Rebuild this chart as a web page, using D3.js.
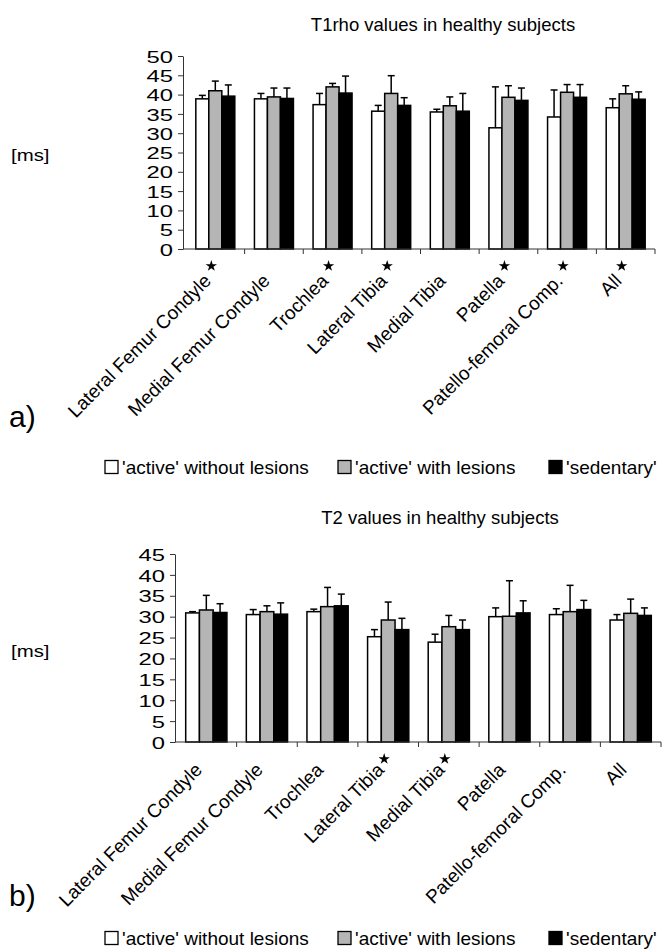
<!DOCTYPE html>
<html>
<head>
<meta charset="utf-8">
<script src="https://cdn.jsdelivr.net/npm/d3@7"></script>
<style>
  body { margin: 0; background: #fff; }
  text { font-family: "Liberation Sans", Arial, sans-serif; fill: #000; }
</style>
</head>
<body>
<svg width="662" height="950"></svg>
<script>
let categories = ['Lateral Femur Condyle', 'Medial Femur Condyle', 'Trochlea', 'Lateral Tibia',
                  'Medial Tibia', 'Patella', 'Patello-femoral Comp.', 'All'];
let groups = ["'active' without lesions", "'active' with lesions", "'sedentary'"];
let fills = ['#ffffff', '#b5b5b5', '#000000'];

// T1rho (ms): mean and upper SD per group
let t1rhoNoLesion = [38.9, 38.9, 37.4, 35.7, 35.5, 31.4, 34.2, 36.6];
let t1rhoNoLesionSD = [0.9, 1.4, 2.9, 1.5, 0.7, 10.6, 7.0, 2.3];
let t1rhoLesion = [41.0, 39.4, 42.0, 40.3, 37.1, 39.3, 40.6, 40.2];
let t1rhoLesionSD = [2.5, 2.3, 0.9, 4.6, 2.3, 3.0, 2.0, 2.1];
let t1rhoSedentary = [39.6, 39.0, 40.4, 37.2, 35.7, 38.5, 39.3, 38.8];
let t1rhoSedentarySD = [2.9, 2.7, 4.4, 2.0, 4.6, 3.2, 3.3, 1.9];
let t1rhoStars = [1, 0, 1, 1, 0, 1, 1, 1];
let t1rhoTicks = [0, 5, 10, 15, 20, 25, 30, 35, 40, 45, 50];

// T2 (ms)
let t2NoLesion = [30.9, 30.5, 31.2, 25.2, 23.9, 30.0, 30.5, 29.2];
let t2NoLesionSD = [0.3, 1.2, 0.6, 1.7, 1.9, 2.1, 1.4, 1.3];
let t2Lesion = [31.6, 31.2, 32.4, 29.2, 27.6, 30.1, 31.2, 30.8];
let t2LesionSD = [3.5, 1.4, 4.6, 4.3, 2.7, 8.5, 6.3, 3.4];
let t2Sedentary = [31.0, 30.6, 32.6, 26.9, 26.9, 30.9, 31.7, 30.3];
let t2SedentarySD = [2.1, 2.7, 2.8, 2.7, 2.3, 2.9, 2.2, 1.8];
let t2Stars = [0, 0, 0, 1, 1, 0, 0, 0];
let t2Ticks = [0, 5, 10, 15, 20, 25, 30, 35, 40, 45];

let svg = d3.select('svg');

function panel(p) {
    let g = svg.append('g');

    let x = d3.scaleBand().domain(categories).range([p.x0, p.x1])
              .paddingInner(p.pad).paddingOuter(p.pad / 2);
    let xs = d3.scaleBand().domain(groups).range([0, x.bandwidth()]);
    let y = d3.scaleLinear().domain([0, d3.max(p.ticks)]).range([p.y0, p.y1]);

    let rows = [];
    categories.forEach((c, i) => {
        groups.forEach((s, j) => {
            rows.push({cat: c, grp: s, v: p.means[j][i], sd: p.sds[j][i], fill: fills[j]});
        });
    });
    let cx = d => x(d.cat) + xs(d.grp) + xs.bandwidth() / 2;

    // bars
    g.selectAll('rect.bar').data(rows).enter().append('rect')
        .attr('class', 'bar')
        .attr('x', d => x(d.cat) + xs(d.grp))
        .attr('y', d => y(d.v))
        .attr('width', xs.bandwidth())
        .attr('height', d => y(0) - y(d.v))
        .attr('fill', d => d.fill)
        .attr('stroke', '#000')
        .attr('stroke-width', 1.5);

    // error bars (upper only)
    let eb = g.selectAll('g.err').data(rows).enter().append('g').attr('class', 'err')
        .attr('stroke', '#000').attr('stroke-width', 1.5);
    eb.append('line')
        .attr('x1', cx).attr('x2', cx)
        .attr('y1', d => y(d.v))
        .attr('y2', d => y(d.v + d.sd));
    eb.append('line')
        .attr('x1', d => cx(d) - 3.5)
        .attr('x2', d => cx(d) + 3.5)
        .attr('y1', d => y(d.v + d.sd))
        .attr('y2', d => y(d.v + d.sd));

    // y axis
    let ya = g.append('g')
        .attr('transform', 'translate(' + p.ax + ',0)')
        .call(d3.axisLeft(y).tickValues(p.ticks).tickSize(5).tickSizeOuter(0));
    ya.select('.domain').attr('stroke', '#333');
    ya.selectAll('.tick line').attr('stroke', '#333');
    ya.selectAll('.tick text')
        .attr('font-size', 17)
        .attr('fill', '#000')
        .attr('transform', 'scale(1.4,1)')
        .attr('x', -10 / 1.4)
        .attr('dy', '0.36em');

    // x axis line and category ticks
    g.append('line')
        .attr('x1', p.ax).attr('x2', p.x1)
        .attr('y1', p.y0).attr('y2', p.y0)
        .attr('stroke', '#333');
    g.selectAll('line.xt').data(categories).enter().append('line')
        .attr('class', 'xt')
        .attr('x1', d => x(d) - x.step() * x.paddingInner() / 2 + x.step())
        .attr('x2', d => x(d) - x.step() * x.paddingInner() / 2 + x.step())
        .attr('y1', p.y0).attr('y2', p.y0 + 5)
        .attr('stroke', '#333');

    // rotated labels
    g.selectAll('text.xl').data(categories).enter().append('text')
        .attr('class', 'xl')
        .attr('text-anchor', 'end')
        .attr('font-size', 19)
        .attr('transform', d => 'translate(' + (x(d) + x.bandwidth() / 2 - 3) + ',' + (p.y0 + p.labDy) + ') rotate(-45)')
        .text(d => d);

    // significance stars
    g.selectAll('path.star').data(categories.filter((c, i) => p.stars[i])).enter().append('path')
        .attr('class', 'star')
        .attr('d', d3.symbol().type(d3.symbolStar).size(40))
        .attr('transform', d => 'translate(' + (x(d) + x.bandwidth() / 2 - 4) + ',' + (p.y0 + 17) + ')')
        .attr('fill', '#000');

    // title, unit, panel letter
    g.append('text').attr('x', p.titleX).attr('y', p.titleY)
        .attr('text-anchor', 'middle').attr('font-size', 18.5).text(p.title);
    g.append('text').attr('transform', 'translate(11,' + p.unitY + ') scale(1.2,1)')
        .attr('font-size', 17).text('[ms]');
    g.append('text').attr('x', 9).attr('y', p.letterY)
        .attr('font-size', 30).text(p.letter);

    // legend
    let lx = [105, 338, 549];
    let lg = g.selectAll('g.leg').data(groups).enter().append('g').attr('class', 'leg')
        .attr('transform', (d, i) => 'translate(' + lx[i] + ',' + p.legY + ')');
    lg.append('rect').attr('x', 0).attr('y', -6.5).attr('width', 13).attr('height', 13)
        .attr('fill', (d, i) => fills[i]).attr('stroke', '#000').attr('stroke-width', 1.3);
    lg.append('text').attr('x', 17).attr('y', 6.5).attr('font-size', 19).text(d => d);
}

panel({
    means: [t1rhoNoLesion, t1rhoLesion, t1rhoSedentary],
    sds: [t1rhoNoLesionSD, t1rhoLesionSD, t1rhoSedentarySD],
    stars: t1rhoStars, ticks: t1rhoTicks,
    x0: 186, x1: 655, ax: 183, pad: 0.335, y0: 249, y1: 56, labDy: 33,
    title: 'T1rho values in healthy subjects', titleX: 443, titleY: 31,
    unitY: 161, letter: 'a)', letterY: 427, legY: 467
});

panel({
    means: [t2NoLesion, t2Lesion, t2Sedentary],
    sds: [t2NoLesionSD, t2LesionSD, t2SedentarySD],
    stars: t2Stars, ticks: t2Ticks,
    x0: 176, x1: 661, ax: 175, pad: 0.32, y0: 742, y1: 554, labDy: 29,
    title: 'T2 values in healthy subjects', titleX: 440, titleY: 524,
    unitY: 657, letter: 'b)', letterY: 906, legY: 938
});
</script>
</body>
</html>
